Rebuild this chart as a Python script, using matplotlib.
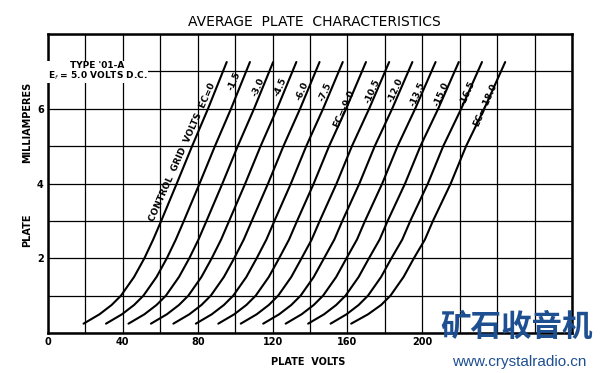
import matplotlib
matplotlib.use("Agg")
import matplotlib.pyplot as plt

plt.rcParams['font.family'] = ['DejaVu Sans']

# grid bias of each curve (volts) and its label
grid_volts = [0, -1.5, -3.0, -4.5, -6.0, -7.5, -9.0, -10.5, -12.0, -13.5, -15.0, -16.5, -18.0]
curve_labels = ["CONTROL  GRID  VOLTS  EC=0", "-1.5", "-3.0", "-4.5", "-6.0", "-7.5",
                "EC=-9.0", "-10.5", "-12.0", "-13.5", "-15.0", "-16.5", "EC=-18.0"]

plate_ma = [0.25, 0.5, 0.75, 1.0, 1.5, 2.0, 2.5, 3.0, 4.0, 5.0, 6.0, 7.25]

# plate volts, one row per grid bias
plate_volts = [
    [19, 27.5, 34, 39, 46, 51.5, 56.2, 60.5, 68.8, 77, 85.5, 95.5],
    [31, 39.5, 46, 51, 58, 63.5, 68.3, 72.6, 81, 89.2, 97.8, 107.9],
    [43, 51.5, 58, 63, 70, 75.5, 80.4, 84.7, 93.2, 101.4, 110.1, 120.3],
    [55, 63.5, 70, 75, 82, 87.5, 92.5, 96.8, 105.4, 113.6, 122.4, 132.7],
    [67, 75.5, 82, 87, 94, 99.5, 104.6, 108.9, 117.6, 125.8, 134.7, 145.1],
    [79, 87.5, 94, 99, 106, 111.5, 116.7, 121, 129.8, 138, 147, 157.5],
    [91, 99.5, 106, 111, 118, 123.5, 128.8, 133.1, 142, 150.2, 159.3, 169.9],
    [103, 111.5, 118, 123, 130, 135.5, 140.9, 145.2, 154.2, 162.4, 171.6, 182.3],
    [115, 123.5, 130, 135, 142, 147.5, 153, 157.3, 166.4, 174.6, 183.9, 194.7],
    [127, 135.5, 142, 147, 154, 159.5, 165.1, 169.4, 178.6, 186.8, 196.2, 207.1],
    [139, 147.5, 154, 159, 166, 171.5, 177.2, 181.5, 190.8, 199, 208.5, 219.5],
    [151, 159.5, 166, 171, 178, 183.5, 189.3, 193.6, 203, 211.2, 220.8, 231.9],
    [162, 171, 178, 183, 190, 195.5, 201.4, 205.7, 215.2, 223.4, 233.1, 244.3],
]

x_ticks = list(range(0, 281, 20))
x_tick_labels = ["0", "", "40", "", "80", "", "120", "", "160", "", "200", "", "", "", ""]
y_ticks = list(range(0, 9))
y_tick_labels = ["", "", "2", "", "4", "", "6", "", ""]

# where the curve labels sit (volts, mA)
label_pos = [(72, 4.83), (99.7, 6.73), (112.5, 6.57), (124.3, 6.57), (136, 6.46), (148.3, 6.46),
             (157.9, 6.0), (173.3, 6.46), (185.6, 6.49), (197.3, 6.38), (210.1, 6.38),
             (224, 6.41), (233.6, 6.09)]

W, H = 604, 373
fig = plt.figure(figsize=(W / 100, H / 100), dpi=100)
ax = fig.add_axes([48 / W, 1 - 333 / H, (572 - 48) / W, (333 - 34) / H])

ax.set_xlim(0, 280)
ax.set_ylim(0, 8)
ax.set_xticks(x_ticks)
ax.set_xticklabels(x_tick_labels, fontsize=7, fontweight="bold")
ax.set_yticks(y_ticks)
ax.set_yticklabels(y_tick_labels, fontsize=7, fontweight="bold")
ax.tick_params(length=0, pad=3)
ax.grid(True, color="black", lw=0.9)
ax.set_axisbelow(True)
for s in ax.spines.values():
    s.set_linewidth(1.8)

for volts in plate_volts:
    ax.plot(volts, plate_ma, color="black", lw=1.5, solid_capstyle="round",
            solid_joinstyle="round")

for (vx, iy), txt in zip(label_pos, curve_labels):
    ax.text(vx, iy, txt, rotation=66, ha="center", va="center", fontsize=6.5,
            fontweight="bold", rotation_mode="anchor")

ax.text(26.5, 7.0, "TYPE '01-A\nE$_f$ = 5.0 VOLTS D.C.", ha="center", va="center",
        fontsize=6.5, fontweight="bold", linespacing=1.0,
        bbox=dict(facecolor="white", edgecolor="none", pad=0.5))

fig.text(314 / W, 1 - 22 / H, "AVERAGE  PLATE  CHARACTERISTICS", ha="center", va="center",
         fontsize=10)
fig.text(308 / W, 1 - 362 / H, "PLATE  VOLTS", ha="center", va="center",
         fontsize=7, fontweight="bold")
fig.text(27 / W, 1 - 122 / H, "MILLIAMPERES", ha="center", va="center", rotation=90,
         fontsize=7, fontweight="bold")
fig.text(27 / W, 1 - 230 / H, "PLATE", ha="center", va="center", rotation=90,
         fontsize=7, fontweight="bold")

# site watermark
fig.text(517 / W, 1 - 327 / H, "矿石收音机", ha="center", va="center", fontsize=22,
         fontweight="bold", color="#1d4f91", family=["Noto Sans CJK SC", "DejaVu Sans"])
fig.text(519 / W, 1 - 362 / H, "www.crystalradio.cn", ha="center", va="center",
         fontsize=11, color="#1d4f91", family=["Liberation Sans", "DejaVu Sans"])

fig.savefig("out.png", dpi=100)
